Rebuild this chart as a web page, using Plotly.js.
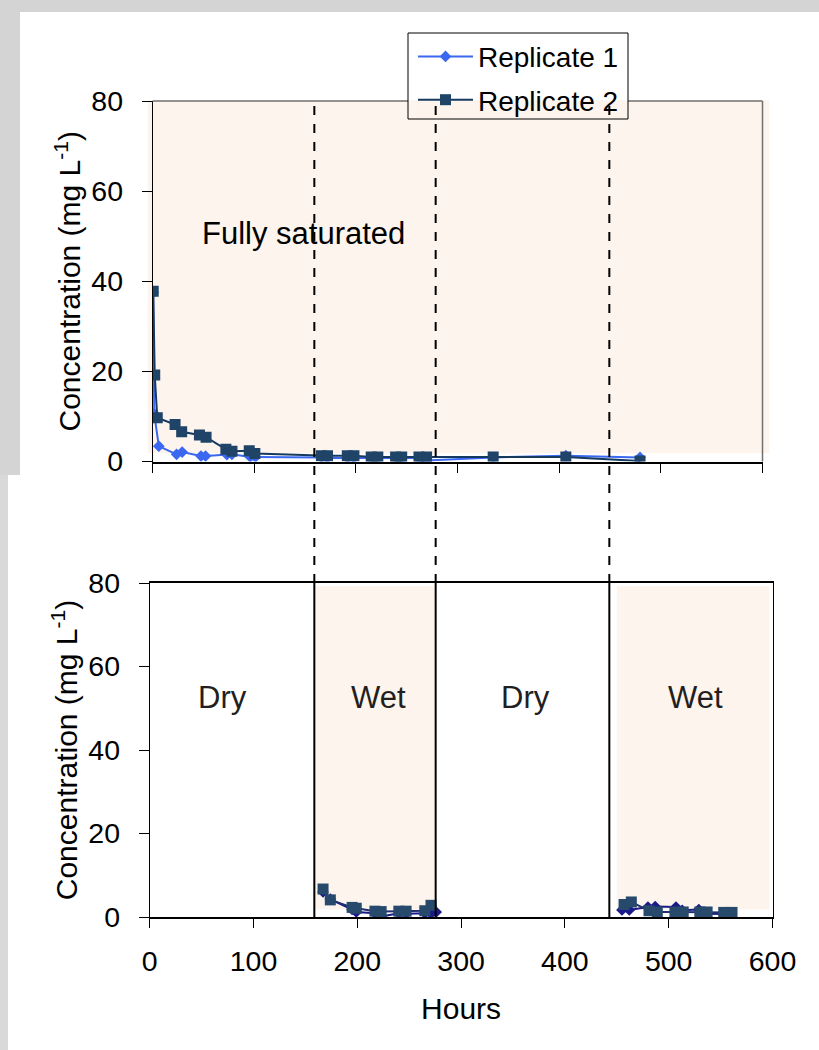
<!DOCTYPE html>
<html>
<head>
<meta charset="utf-8">
<script src="https://cdn.plot.ly/plotly-3.0.1.min.js"></script>
<style>html,body{margin:0;padding:0;background:#fff;}#chart{width:819px;height:1050px;}</style>
</head>
<body>
<div id="chart"></div>
<script>
// ---- data (hours, mg/L) ----
const topHours1 = [0.5, 1.5, 6, 23.5, 29, 47.5, 52, 73, 78, 96, 101, 166, 172, 191.5, 198, 215, 221.5, 239, 245, 262, 269.5, 335, 406.5, 479.5];
const topConc1  = [37.5, 10.6, 3.4, 1.6, 2.1, 1.2, 1.2, 1.5, 1.6, 1.0, 1.0, 0.9, 0.8, 0.8, 0.8, 0.8, 0.8, 0.8, 0.8, 0.8, 0.2, 0.9, 1.3, 0.9];
const topHours2 = [0.5, 2, 4.5, 22, 28.5, 46, 52.5, 72, 78, 95, 100.5, 166, 172, 191.5, 198, 215, 221.5, 239, 245, 262, 269.5, 335, 406.5, 479.5];
const topConc2  = [37.8, 19.2, 9.7, 8.2, 6.6, 5.9, 5.4, 2.7, 2.3, 2.4, 1.8, 1.3, 1.3, 1.3, 1.3, 1.0, 1.0, 1.0, 1.0, 1.0, 1.0, 1.0, 1.0, 0.1];

const botHours1 = [167, 174, 195, 199, 217, 223, 240, 247, 265, 271, 276, null, 455, 462, 480, 487, 507, 513, 529, 536, 552, 560];
const botConc1  = [6.0, 4.3, 1.8, 1.2, 0.9, 0.1, 0.9, 0.8, 0.9, 0.8, 1.2, null, 1.7, 1.7, 2.4, 2.5, 2.4, 1.6, 1.8, 0.7, 0.8, 0.9];
const botHours2 = [167, 174, 195, 199, 217, 223, 240, 247, 265, 271, null, 457, 464, 481, 489, 506, 514, 530, 537, 553, 561];
const botConc2  = [6.7, 4.1, 2.3, 2.1, 1.4, 1.3, 1.4, 1.4, 1.5, 2.8, null, 3.0, 3.6, 1.5, 1.2, 1.2, 1.2, 1.2, 1.2, 1.1, 1.1];

const seriesNames = ["Replicate 1", "Replicate 2"];
const phaseBoundaries = [158.6, 275.5, 442.8];      // hours
const wetPeriods = [[159, 275], [450, 597]];         // hours
const phaseLabels = ["Dry", "Wet", "Dry", "Wet"];
const phaseLabelHours = [70, 220, 362, 526];
const topLabel = "Fully saturated";
const yTitle = "Concentration (mg L<sup>-1</sup>)";
const xTitle = "Hours";

// ---- layout helpers ----
const W = 819, H = 1050;
const px = v => v / W, py = v => 1 - v / H;
const FONT = "Liberation Sans, Arial, sans-serif";
const peach = "#fdf4ed";
const blue1 = "#3a68f0", navyTop2 = "#1f4468", navyLine2 = "#163a5f";
const botNavy = "#1a1a8a", botSq = "#274a6c";

const traces = [
  {x: topHours1, y: topConc1, xaxis: "x", yaxis: "y", name: seriesNames[0], mode: "lines+markers",
   line: {color: blue1, width: 2}, marker: {symbol: "diamond", size: 9, color: blue1}, legend: "legend"},
  {x: topHours2, y: topConc2, xaxis: "x", yaxis: "y", name: seriesNames[1], mode: "lines+markers",
   line: {color: navyLine2, width: 2}, marker: {symbol: "square", size: 11, color: navyTop2}, legend: "legend2"},
  {x: botHours1, y: botConc1, xaxis: "x2", yaxis: "y2", name: seriesNames[0], mode: "lines+markers", showlegend: false,
   connectgaps: false, line: {color: botNavy, width: 2}, marker: {symbol: "diamond", size: 9, color: botNavy}},
  {x: botHours2, y: botConc2, xaxis: "x2", yaxis: "y2", name: seriesNames[1], mode: "lines+markers", showlegend: false,
   connectgaps: false, line: {color: "#1f2f70", width: 2}, marker: {symbol: "square", size: 11, color: botSq}}
];

const axisFont = {family: FONT, size: 28.5, color: "#000"};
const commonX = {range: [0, 600], dtick: 100, ticks: "outside", ticklen: 9, tickcolor: "#000", tickwidth: 1,
  showgrid: false, zeroline: false, showline: true, linecolor: "#000", linewidth: 2, tickfont: axisFont, fixedrange: true};
const commonY = {range: [0, 80], dtick: 20, ticks: "outside", ticklen: 10, tickcolor: "#000", tickwidth: 1,
  showgrid: false, zeroline: false, showline: true, linecolor: "#000", linewidth: 1, tickfont: axisFont,
  ticklabelstandoff: 13, fixedrange: true,
  title: {text: yTitle, font: {family: FONT, size: 30, color: "#000"}, standoff: 1}};

const shapes = [];
// textured page border (approximated by grey strips)
shapes.push({type: "rect", xref: "paper", yref: "paper", x0: 0, x1: 1, y0: py(12), y1: 1, fillcolor: "#d4d4d4", line: {width: 0}, layer: "below"});
shapes.push({type: "rect", xref: "paper", yref: "paper", x0: 0, x1: px(20), y0: py(475), y1: 1, fillcolor: "#d4d4d4", line: {width: 0}, layer: "below"});
shapes.push({type: "rect", xref: "paper", yref: "paper", x0: 0, x1: px(8), y0: 0, y1: py(475), fillcolor: "#d9d9d9", line: {width: 0}, layer: "below"});
// fully saturated shading (top)
shapes.push({type: "rect", xref: "x domain", yref: "y domain", x0: -0.008, x1: 1.011, y0: 0.023, y1: 1.002, fillcolor: peach, line: {width: 0}, layer: "below"});
// top plot grey frame (top & right)
const legL = 408, legR = 628, legT = 33, legB = 119;
shapes.push({type: "line", xref: "paper", yref: "y domain", x0: px(152.7), x1: px(legL), y0: 1, y1: 1, line: {color: "#707070", width: 1.5}});
shapes.push({type: "line", xref: "paper", yref: "y domain", x0: px(legR), x1: px(762.5), y0: 1, y1: 1, line: {color: "#707070", width: 1.5}});
shapes.push({type: "line", xref: "x domain", yref: "y domain", x0: 1, x1: 1, y0: 0, y1: 1, line: {color: "#707070", width: 1.5}});
// wet shading (bottom)
wetPeriods.forEach(p => shapes.push({type: "rect", xref: "x2", yref: "y2", x0: p[0], x1: p[1], y0: 1.8, y1: 79.3,
  fillcolor: peach, line: {width: 0}, layer: "below"}));
// phase boundaries: dashed across the gap, solid inside bottom plot
phaseBoundaries.forEach(h => {
  shapes.push({type: "line", xref: "x2", yref: "paper", x0: h, x1: h, y0: py(583), y1: py(101), line: {color: "#000", width: 2, dash: "dash"}});
  shapes.push({type: "line", xref: "x2", yref: "y2", x0: h, x1: h, y0: -2.2, y1: 80, line: {color: "#000", width: 2}});
});
// legend frame
shapes.push({type: "rect", xref: "paper", yref: "paper", x0: px(legL), x1: px(legR), y0: py(legB), y1: py(legT),
  fillcolor: "rgba(0,0,0,0)", line: {color: "#000", width: 1}, layer: "above"});

const annotations = [
  {xref: "x", yref: "y", x: 148, y: 50.7, text: topLabel, showarrow: false, font: {family: FONT, size: 31, color: "#000"}}
];
phaseLabels.forEach((t, i) => annotations.push({xref: "x2", yref: "y2", x: phaseLabelHours[i], y: 52.5, text: t,
  showarrow: false, font: {family: FONT, size: 31, color: "#231f20"}}));

const legendBase = {xanchor: "left", yanchor: "middle", bgcolor: "rgba(0,0,0,0)", borderwidth: 0,
  font: {family: FONT, size: 28, color: "#000"}, itemwidth: 55};

const layout = {
  width: W, height: H, margin: {l: 0, r: 0, t: 0, b: 0}, autosize: false,
  paper_bgcolor: "#fff", plot_bgcolor: "rgba(0,0,0,0)",
  font: {family: FONT, color: "#000"},
  xaxis: Object.assign({}, commonX, {domain: [px(152.7), px(762.5)], anchor: "y", showticklabels: false}),
  yaxis: Object.assign({}, commonY, {domain: [py(461.5), py(101)], anchor: "x"}),
  xaxis2: Object.assign({}, commonX, {domain: [px(149.7), px(772.5)], anchor: "y2", mirror: true,
    ticklabelstandoff: 9, title: {text: xTitle, font: {family: FONT, size: 30, color: "#000"}, standoff: 22}}),
  yaxis2: Object.assign({}, commonY, {domain: [py(917), py(583)], anchor: "x2", mirror: true}),
  legend: Object.assign({}, legendBase, {x: px(legL + 5), y: py(56.7)}),
  legend2: Object.assign({}, legendBase, {x: px(legL + 5), y: py(100)}),
  shapes: shapes,
  annotations: annotations
};

Plotly.newPlot("chart", traces, layout, {staticPlot: true, displayModeBar: false});
</script>
</body>
</html>
